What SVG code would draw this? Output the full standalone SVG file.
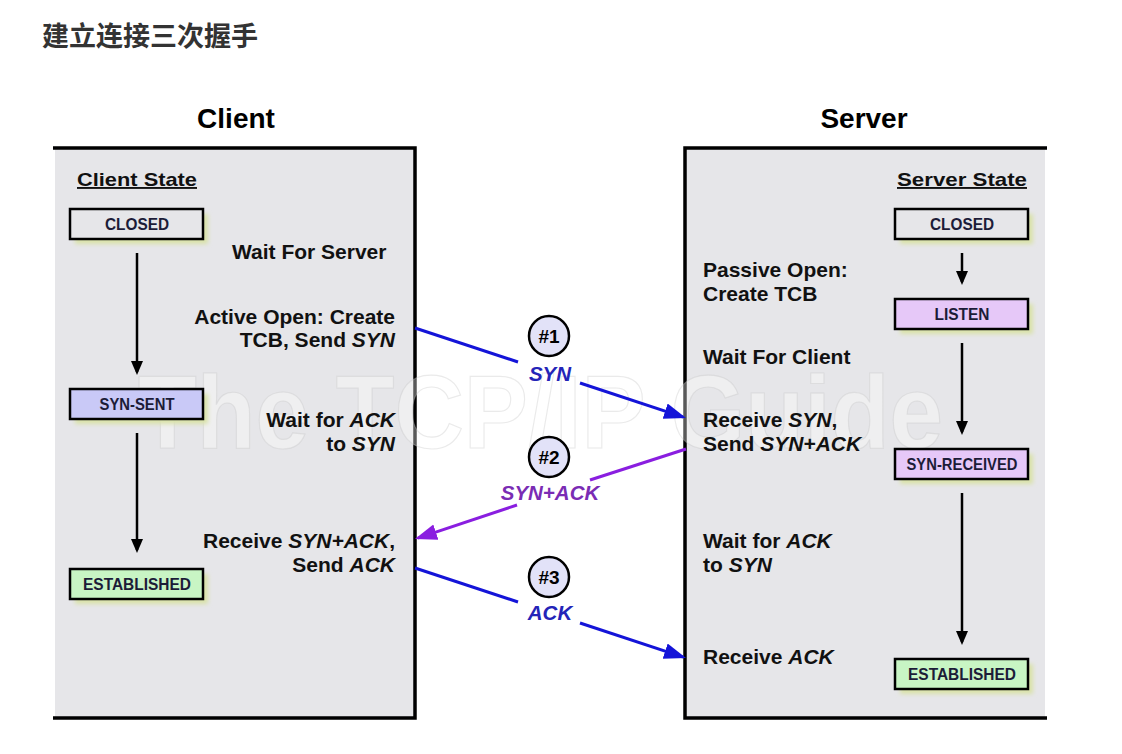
<svg xmlns="http://www.w3.org/2000/svg" width="1122" height="754" viewBox="0 0 1122 754">
<style>
.t{font-family:"Liberation Sans",Arial,"Noto Sans CJK SC",sans-serif;font-weight:bold;fill:#111}
.lbl{font-size:21px}
.r{text-anchor:end}
.hd{font-size:28px;text-anchor:middle;fill:#000}
.sub{font-size:19px;text-decoration:underline}
.st{font-size:16.5px;text-anchor:middle;fill:#1c1c38}
.num{font-size:19px;text-anchor:middle;fill:#000}
.msg{font-size:20.5px;font-style:italic;text-anchor:middle}
.box{stroke:#000;stroke-width:2.5}
.shadow{fill:#d9e2a8;filter:url(#blur)}
.border{stroke:#000;stroke-width:3.5;fill:none}
.varrow{stroke:#000;stroke-width:2.5;fill:none}
.circ{fill:#e2e2f8;stroke:#000;stroke-width:2.5}
.wm{font-family:"Liberation Sans",Arial,sans-serif;font-weight:bold;font-size:104px;fill:#ffffff;fill-opacity:0.35;stroke:#c4c4c4;stroke-opacity:0.35;stroke-width:1.2}
</style>
<defs>
<filter id="blur" x="-20%" y="-50%" width="140%" height="200%"><feGaussianBlur stdDeviation="2"/></filter>
<marker id="mb" markerUnits="userSpaceOnUse" markerWidth="24" markerHeight="18" refX="19" refY="8" orient="auto"><path d="M0,0 L22,8 L0,16 z" fill="#1414d8"/></marker>
<marker id="mp" markerUnits="userSpaceOnUse" markerWidth="24" markerHeight="18" refX="19" refY="8" orient="auto"><path d="M0,0 L22,8 L0,16 z" fill="#8a1ee0"/></marker>
<marker id="mk" markerUnits="userSpaceOnUse" markerWidth="16" markerHeight="14" refX="11" refY="6" orient="auto"><path d="M0,0 L14,6 L0,12 z" fill="#000"/></marker>
</defs>
<rect width="1122" height="754" fill="#fff"/>
<text x="42" y="46" class="t" style="font-family:'Noto Sans CJK SC',sans-serif;font-size:27px;fill:#333">建立连接三次握手</text>
<text x="236" y="128" class="t hd">Client</text>
<text x="864" y="128" class="t hd">Server</text>

<g id="client-panel">
<rect x="55" y="148" width="360" height="570" fill="#e6e6e9"/>
<path class="border" d="M53,148 H415 V718 H53"/>
</g>
<g id="server-panel">
<rect x="685" y="148" width="360" height="570" fill="#e6e6e9"/>
<path class="border" d="M1047,148 H685 V718 H1047"/>
</g>

<text x="138" y="448" class="wm" textLength="805" lengthAdjust="spacingAndGlyphs">The TCP/IP Guide</text>

<text x="77" y="186" class="t sub" textLength="120" lengthAdjust="spacingAndGlyphs">Client State</text>
<text x="897" y="186" class="t sub" textLength="130" lengthAdjust="spacingAndGlyphs">Server State</text>

<g id="c-closed"><rect class="shadow" x="75" y="214" width="133" height="30"/><rect class="box" x="70" y="209" width="133" height="30" fill="#e6e6e9"/><text x="137" y="230" class="t st" textLength="64" lengthAdjust="spacingAndGlyphs">CLOSED</text></g>
<g id="c-synsent"><rect class="shadow" x="75" y="394" width="133" height="30"/><rect class="box" x="70" y="389" width="133" height="30" fill="#c9c9f7"/><text x="137" y="410" class="t st" textLength="75" lengthAdjust="spacingAndGlyphs">SYN-SENT</text></g>
<g id="c-established"><rect class="shadow" x="75" y="574" width="133" height="30"/><rect class="box" x="70" y="569" width="133" height="30" fill="#c8f5c4"/><text x="137" y="590" class="t st" textLength="108" lengthAdjust="spacingAndGlyphs">ESTABLISHED</text></g>

<g id="s-closed"><rect class="shadow" x="900" y="214" width="133" height="30"/><rect class="box" x="895" y="209" width="133" height="30" fill="#e6e6e9"/><text x="962" y="230" class="t st" textLength="64" lengthAdjust="spacingAndGlyphs">CLOSED</text></g>
<g id="s-listen"><rect class="shadow" x="900" y="304" width="133" height="30"/><rect class="box" x="895" y="299" width="133" height="30" fill="#e6c8f8"/><text x="962" y="320" class="t st" textLength="55" lengthAdjust="spacingAndGlyphs">LISTEN</text></g>
<g id="s-synrcvd"><rect class="shadow" x="900" y="454" width="133" height="30"/><rect class="box" x="895" y="449" width="133" height="30" fill="#e6c8f8"/><text x="962" y="470" class="t st" textLength="111" lengthAdjust="spacingAndGlyphs">SYN-RECEIVED</text></g>
<g id="s-established"><rect class="shadow" x="900" y="664" width="133" height="30"/><rect class="box" x="895" y="659" width="133" height="30" fill="#c8f5c4"/><text x="962" y="680" class="t st" textLength="108" lengthAdjust="spacingAndGlyphs">ESTABLISHED</text></g>

<g id="client-labels" class="t lbl">
<text x="232" y="259">Wait For Server</text>
<text x="395" y="324" class="r">Active Open: Create</text>
<text x="395" y="347" class="r">TCB, Send <tspan font-style="italic">SYN</tspan></text>
<text x="395" y="427" class="r">Wait for <tspan font-style="italic">ACK</tspan></text>
<text x="395" y="451" class="r">to <tspan font-style="italic">SYN</tspan></text>
<text x="395" y="548" class="r">Receive <tspan font-style="italic">SYN+ACK</tspan>,</text>
<text x="395" y="572" class="r">Send <tspan font-style="italic">ACK</tspan></text>
</g>
<g id="server-labels" class="t lbl">
<text x="703" y="277">Passive Open:</text>
<text x="703" y="301">Create TCB</text>
<text x="703" y="364">Wait For Client</text>
<text x="703" y="427">Receive <tspan font-style="italic">SYN</tspan>,</text>
<text x="703" y="451">Send <tspan font-style="italic">SYN+ACK</tspan></text>
<text x="703" y="548">Wait for <tspan font-style="italic">ACK</tspan></text>
<text x="703" y="572">to <tspan font-style="italic">SYN</tspan></text>
<text x="703" y="664">Receive <tspan font-style="italic">ACK</tspan></text>
</g>

<g id="step1"><circle class="circ" cx="549" cy="336" r="20"/><text x="549" y="343" class="t num">#1</text></g>
<g id="step2"><circle class="circ" cx="549" cy="457" r="20"/><text x="549" y="464" class="t num">#2</text></g>
<g id="step3"><circle class="circ" cx="549" cy="577" r="20"/><text x="549" y="584" class="t num">#3</text></g>

<g id="connectors">
<line class="varrow" x1="137" y1="253" x2="137" y2="372" marker-end="url(#mk)"/>
<line class="varrow" x1="137" y1="433" x2="137" y2="550" marker-end="url(#mk)"/>
<line class="varrow" x1="962" y1="253" x2="962" y2="282" marker-end="url(#mk)"/>
<line class="varrow" x1="962" y1="343" x2="962" y2="432" marker-end="url(#mk)"/>
<line class="varrow" x1="962" y1="493" x2="962" y2="642" marker-end="url(#mk)"/>

<line x1="415" y1="328" x2="518" y2="362" stroke="#1414d8" stroke-width="3"/>
<line x1="580" y1="383" x2="683.2" y2="417.1" stroke="#1414d8" stroke-width="3" marker-end="url(#mb)"/>
<text x="550" y="381" class="t msg" style="fill:#2424b8">SYN</text>

<line x1="686" y1="449" x2="590" y2="480" stroke="#8a1ee0" stroke-width="3"/>
<line x1="517" y1="505" x2="417.8" y2="538.1" stroke="#8a1ee0" stroke-width="3" marker-end="url(#mp)"/>
<text x="550" y="500" class="t msg" style="fill:#7a2cb4">SYN+ACK</text>

<line x1="415" y1="568" x2="518" y2="602" stroke="#1414d8" stroke-width="3"/>
<line x1="580" y1="623" x2="683.2" y2="657.1" stroke="#1414d8" stroke-width="3" marker-end="url(#mb)"/>
<text x="550" y="620" class="t msg" style="fill:#2424b8">ACK</text>
</g>
</svg>
